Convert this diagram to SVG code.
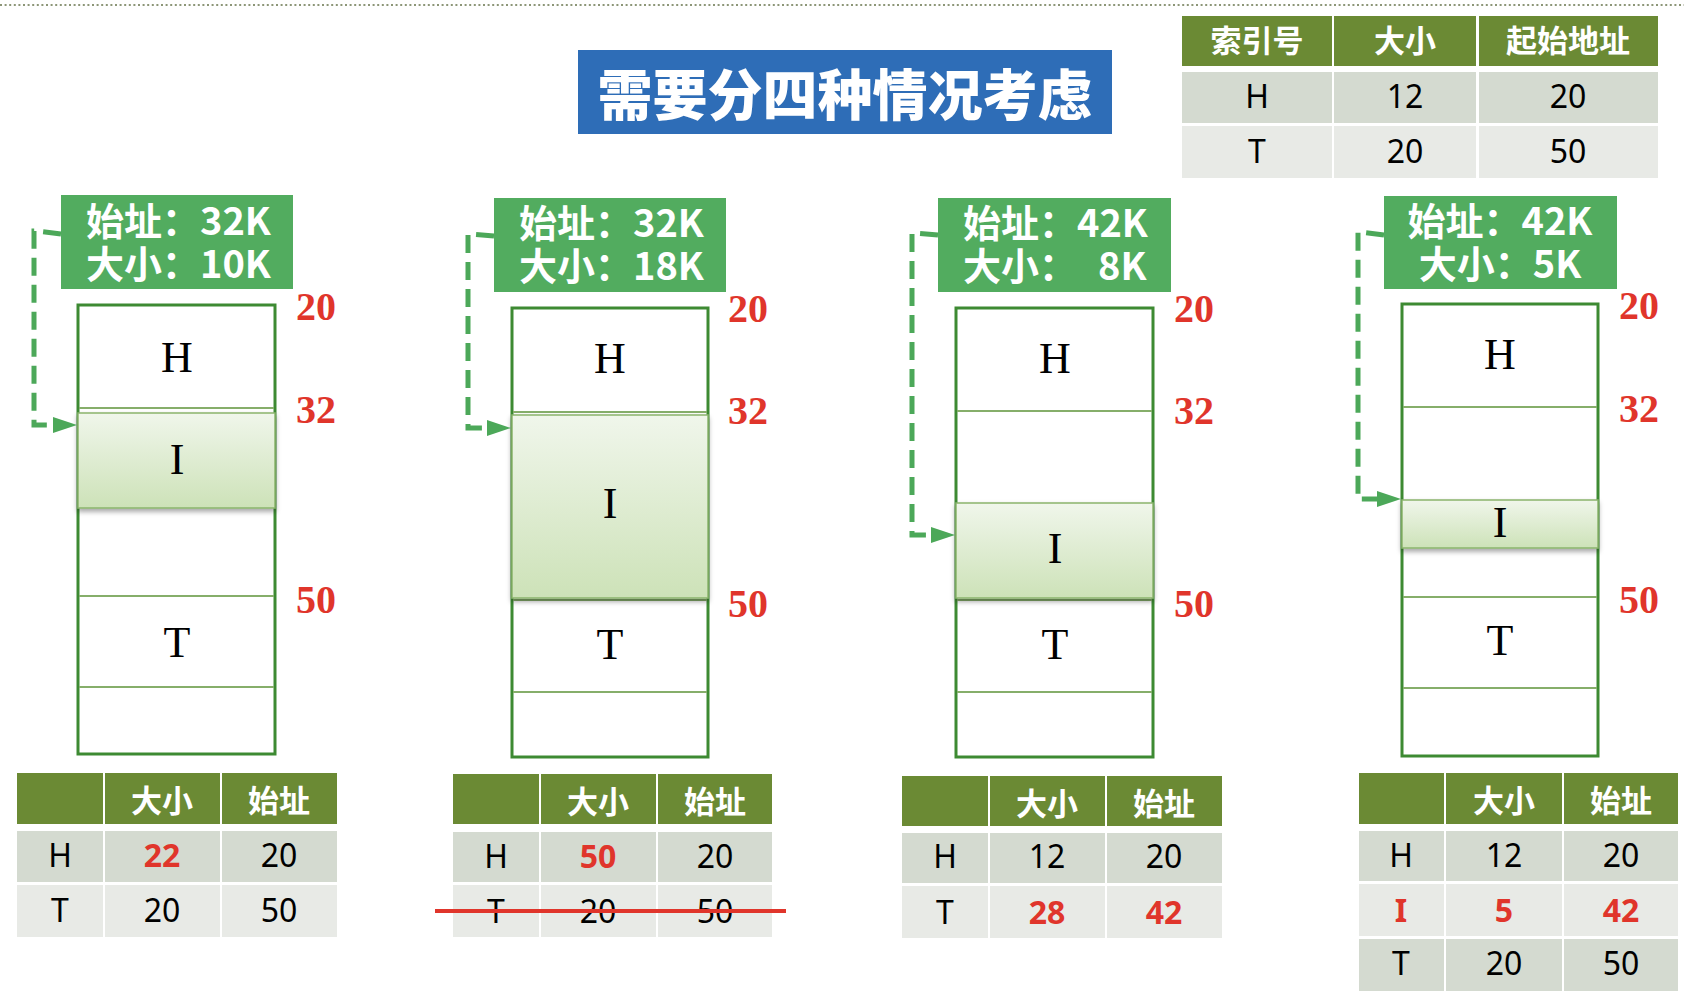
<svg xmlns="http://www.w3.org/2000/svg" width="1684" height="1003" viewBox="0 0 1684 1003">
<style>
.lbl{fill:#52ac5f}
.lbltx{font-family:"Noto Sans CJK SC","Noto Sans",sans-serif;font-weight:700;font-size:38px;fill:#fff}
.mem{fill:#fff;stroke:#3d8a32;stroke-width:3}
.div{stroke:#86ae6a;stroke-width:2}
.blk{fill:url(#gI);stroke:#8ab46c;stroke-width:1.5;filter:url(#sh)}
.let{font-family:"Liberation Serif",serif;font-size:44px;fill:#000;text-anchor:middle}
.addr{font-family:"Liberation Serif",serif;font-weight:700;font-size:40px;fill:#e0352b}
.th{fill:#6b8a34}
.r1{fill:#d4dad0}
.r2{fill:#e8eae6}
.tht{font-family:"Noto Sans CJK SC","Noto Sans",sans-serif;font-weight:700;font-size:31px;fill:#fff;text-anchor:middle}
.td{font-family:"Noto Sans","Noto Sans CJK SC",sans-serif;font-size:32px;fill:#000;text-anchor:middle}
.red{fill:#e0352b;font-weight:700}
.conn{fill:none;stroke:#4ca859;stroke-width:5;stroke-dasharray:18 9;marker-end:url(#arr)}
</style>
<defs>
<linearGradient id="gI" x1="0" y1="0" x2="0" y2="1">
<stop offset="0" stop-color="#f0f6eb"/>
<stop offset="1" stop-color="#cde2b8"/>
</linearGradient>
<filter id="sh" x="-5%" y="-10%" width="110%" height="130%">
<feDropShadow dx="0" dy="3" stdDeviation="2.5" flood-color="#000" flood-opacity="0.35"/>
</filter>
<marker id="arr" markerUnits="userSpaceOnUse" markerWidth="24" markerHeight="16" refX="0" refY="8" orient="auto">
<path d="M0,0 L24,8 L0,16 z" fill="#4ca859"/>
</marker>
</defs>
<rect width="1684" height="1003" fill="#fff"/>
<line x1="0" y1="5" x2="1684" y2="5" stroke="#8d9678" stroke-width="2" stroke-dasharray="2 2.6"/>

<g id="title">
<rect x="578" y="50" width="534" height="84" fill="#2e6db7"/>
<text x="845" y="115" text-anchor="middle" style="font-family:'Noto Sans CJK SC',sans-serif;font-weight:900;font-size:55px;fill:#fff">需要分四种情况考虑</text>
</g>

<g id="index-table">
<rect class="th" x="1182" y="16" width="150" height="50"/>
<rect class="th" x="1334" y="16" width="142" height="50"/>
<rect class="th" x="1479" y="16" width="179" height="50"/>
<rect class="r1" x="1182" y="72" width="150" height="51"/>
<rect class="r1" x="1334" y="72" width="142" height="51"/>
<rect class="r1" x="1479" y="72" width="179" height="51"/>
<rect class="r2" x="1182" y="126" width="150" height="52"/>
<rect class="r2" x="1334" y="126" width="142" height="52"/>
<rect class="r2" x="1479" y="126" width="179" height="52"/>
<text class="tht" x="1257" y="52">索引号</text>
<text class="tht" x="1405" y="52">大小</text>
<text class="tht" x="1568" y="52">起始地址</text>
<text class="td" x="1257" y="108">H</text>
<text class="td" x="1405" y="108">12</text>
<text class="td" x="1568" y="108">20</text>
<text class="td" x="1257" y="163">T</text>
<text class="td" x="1405" y="163">20</text>
<text class="td" x="1568" y="163">50</text>
</g>

<g id="label-1">
<rect class="lbl" x="61" y="195" width="232" height="94"/>
<text class="lbltx"><tspan x="86" y="235">始址：32K</tspan><tspan x="86" y="278">大小：10K</tspan></text>
</g>
<g id="label-2">
<rect class="lbl" x="494" y="198" width="232" height="94"/>
<text class="lbltx"><tspan x="519" y="237">始址：32K</tspan><tspan x="519" y="280">大小：18K</tspan></text>
</g>
<g id="label-3">
<rect class="lbl" x="938" y="198" width="233" height="94"/>
<text class="lbltx"><tspan x="963" y="237">始址：42K</tspan><tspan x="963" y="280">大小：</tspan><tspan x="1098" y="280">8K</tspan></text>
</g>
<g id="label-4">
<rect class="lbl" x="1384" y="196" width="233" height="93"/>
<text class="lbltx" text-anchor="middle"><tspan x="1500" y="235">始址：42K</tspan><tspan x="1500" y="278">大小：5K</tspan></text>
</g>

<g id="memory-1">
<rect class="mem" x="78" y="305" width="197" height="449"/>
<line class="div" x1="79" y1="408" x2="274" y2="408"/>
<line class="div" x1="79" y1="596" x2="274" y2="596"/>
<line class="div" x1="79" y1="687" x2="274" y2="687"/>
<rect class="blk" x="78" y="413" width="197" height="95"/>
<text class="let" x="177" y="372">H</text>
<text class="let" x="177" y="474">I</text>
<text class="let" x="177" y="657">T</text>
<text class="addr" x="296" y="320">20</text>
<text class="addr" x="296" y="423">32</text>
<text class="addr" x="296" y="613">50</text>
</g>
<g id="memory-2">
<rect class="mem" x="512" y="308" width="196" height="449"/>
<line class="div" x1="513" y1="412" x2="707" y2="412"/>
<line class="div" x1="513" y1="600" x2="707" y2="600"/>
<line class="div" x1="513" y1="692" x2="707" y2="692"/>
<rect class="blk" x="512" y="415" width="196" height="183"/>
<text class="let" x="610" y="373">H</text>
<text class="let" x="610" y="518">I</text>
<text class="let" x="610" y="659">T</text>
<text class="addr" x="728" y="322">20</text>
<text class="addr" x="728" y="424">32</text>
<text class="addr" x="728" y="617">50</text>
</g>
<g id="memory-3">
<rect class="mem" x="956" y="308" width="197" height="449"/>
<line class="div" x1="957" y1="411" x2="1152" y2="411"/>
<line class="div" x1="957" y1="600" x2="1152" y2="600"/>
<line class="div" x1="957" y1="692" x2="1152" y2="692"/>
<rect class="blk" x="956" y="503" width="197" height="95"/>
<text class="let" x="1055" y="373">H</text>
<text class="let" x="1055" y="563">I</text>
<text class="let" x="1055" y="659">T</text>
<text class="addr" x="1174" y="322">20</text>
<text class="addr" x="1174" y="424">32</text>
<text class="addr" x="1174" y="617">50</text>
</g>
<g id="memory-4">
<rect class="mem" x="1402" y="304" width="196" height="452"/>
<line class="div" x1="1403" y1="407" x2="1597" y2="407"/>
<line class="div" x1="1403" y1="597" x2="1597" y2="597"/>
<line class="div" x1="1403" y1="688" x2="1597" y2="688"/>
<rect class="blk" x="1402" y="500" width="196" height="48"/>
<text class="let" x="1500" y="369">H</text>
<text class="let" x="1500" y="537">I</text>
<text class="let" x="1500" y="655">T</text>
<text class="addr" x="1619" y="319">20</text>
<text class="addr" x="1619" y="422">32</text>
<text class="addr" x="1619" y="613">50</text>
</g>

<g id="connectors">
<path class="conn" d="M61,234 L36,231 L34,231 V425 H53"/>
<path class="conn" d="M494,236 L470,234 L468,234 V428 H487"/>
<path class="conn" d="M938,235 L914,233 L912,233 V535 H931"/>
<path class="conn" d="M1384,235 L1360,232 L1358,232 V499 H1377"/>
</g>

<g id="table-1">
<rect class="th" x="17" y="773" width="86" height="51"/>
<rect class="th" x="105" y="773" width="115" height="51"/>
<rect class="th" x="222" y="773" width="115" height="51"/>
<rect class="r1" x="17" y="831" width="86" height="51"/>
<rect class="r1" x="105" y="831" width="115" height="51"/>
<rect class="r1" x="222" y="831" width="115" height="51"/>
<rect class="r2" x="17" y="885" width="86" height="52"/>
<rect class="r2" x="105" y="885" width="115" height="52"/>
<rect class="r2" x="222" y="885" width="115" height="52"/>
<text class="tht" x="162" y="812">大小</text>
<text class="tht" x="279" y="812">始址</text>
<text class="td" x="60" y="867">H</text>
<text class="td red" x="162" y="867">22</text>
<text class="td" x="279" y="867">20</text>
<text class="td" x="60" y="922">T</text>
<text class="td" x="162" y="922">20</text>
<text class="td" x="279" y="922">50</text>
</g>

<g id="table-2">
<rect class="th" x="453" y="774" width="86" height="50"/>
<rect class="th" x="541" y="774" width="115" height="50"/>
<rect class="th" x="658" y="774" width="114" height="50"/>
<rect class="r1" x="453" y="832" width="86" height="50"/>
<rect class="r1" x="541" y="832" width="115" height="50"/>
<rect class="r1" x="658" y="832" width="114" height="50"/>
<rect class="r2" x="453" y="885" width="86" height="52"/>
<rect class="r2" x="541" y="885" width="115" height="52"/>
<rect class="r2" x="658" y="885" width="114" height="52"/>
<text class="tht" x="598" y="813">大小</text>
<text class="tht" x="715" y="813">始址</text>
<text class="td" x="496" y="868">H</text>
<text class="td red" x="598" y="868">50</text>
<text class="td" x="715" y="868">20</text>
<text class="td" x="496" y="923">T</text>
<text class="td" x="598" y="923">20</text>
<text class="td" x="715" y="923">50</text>
<line x1="435" y1="911" x2="786" y2="911" stroke="#e0352b" stroke-width="4"/>
</g>

<g id="table-3">
<rect class="th" x="902" y="776" width="86" height="50"/>
<rect class="th" x="990" y="776" width="115" height="50"/>
<rect class="th" x="1107" y="776" width="115" height="50"/>
<rect class="r1" x="902" y="833" width="86" height="50"/>
<rect class="r1" x="990" y="833" width="115" height="50"/>
<rect class="r1" x="1107" y="833" width="115" height="50"/>
<rect class="r2" x="902" y="886" width="86" height="52"/>
<rect class="r2" x="990" y="886" width="115" height="52"/>
<rect class="r2" x="1107" y="886" width="115" height="52"/>
<text class="tht" x="1047" y="815">大小</text>
<text class="tht" x="1164" y="815">始址</text>
<text class="td" x="945" y="868">H</text>
<text class="td" x="1047" y="868">12</text>
<text class="td" x="1164" y="868">20</text>
<text class="td" x="945" y="924">T</text>
<text class="td red" x="1047" y="924">28</text>
<text class="td red" x="1164" y="924">42</text>
</g>

<g id="table-4">
<rect class="th" x="1359" y="773" width="85" height="51"/>
<rect class="th" x="1446" y="773" width="116" height="51"/>
<rect class="th" x="1564" y="773" width="114" height="51"/>
<rect class="r1" x="1359" y="831" width="85" height="50"/>
<rect class="r1" x="1446" y="831" width="116" height="50"/>
<rect class="r1" x="1564" y="831" width="114" height="50"/>
<rect class="r2" x="1359" y="884" width="85" height="52"/>
<rect class="r2" x="1446" y="884" width="116" height="52"/>
<rect class="r2" x="1564" y="884" width="114" height="52"/>
<rect class="r1" x="1359" y="939" width="85" height="52"/>
<rect class="r1" x="1446" y="939" width="116" height="52"/>
<rect class="r1" x="1564" y="939" width="114" height="52"/>
<text class="tht" x="1504" y="812">大小</text>
<text class="tht" x="1621" y="812">始址</text>
<text class="td" x="1401" y="867">H</text>
<text class="td" x="1504" y="867">12</text>
<text class="td" x="1621" y="867">20</text>
<text class="td red" x="1401" y="922">I</text>
<text class="td red" x="1504" y="922">5</text>
<text class="td red" x="1621" y="922">42</text>
<text class="td" x="1401" y="975">T</text>
<text class="td" x="1504" y="975">20</text>
<text class="td" x="1621" y="975">50</text>
</g>
</svg>
